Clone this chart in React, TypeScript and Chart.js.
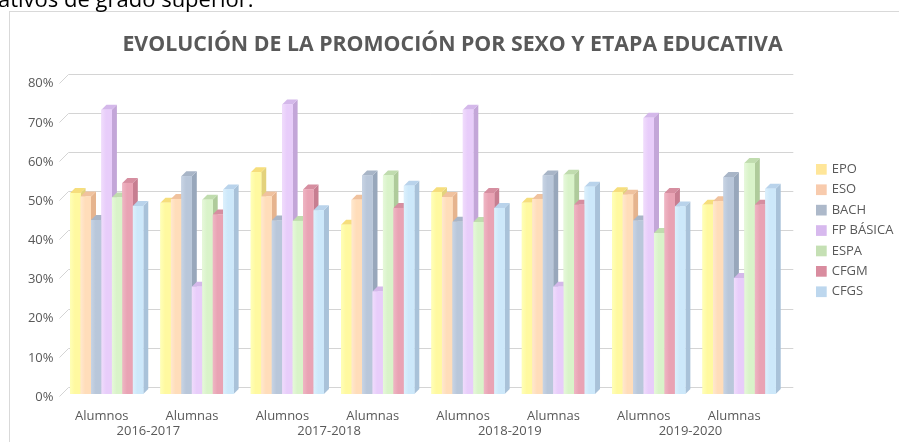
import React, { useEffect, useRef } from 'react';
import { Chart, registerables } from 'chart.js';

Chart.register(...registerables);

// ---- data ----
const chartTitle = 'EVOLUCIÓN DE LA PROMOCIÓN POR SEXO Y ETAPA EDUCATIVA';
const pageText = 'ativos de grado superior.';
const years = ['2016-2017', '2017-2018', '2018-2019', '2019-2020'];
const sexes = ['Alumnos', 'Alumnas'];
const seriesNames = ['EPO', 'ESO', 'BACH', 'FP BÁSICA', 'ESPA', 'CFGM', 'CFGS'];

const epo = [51.3, 48.8, 56.6, 43.2, 51.5, 48.8, 51.5, 48.3];
const eso = [50.4, 49.8, 50.4, 49.6, 50.3, 49.8, 50.9, 49.2];
const bach = [44.4, 55.6, 44.3, 55.8, 44.0, 55.8, 44.3, 55.4];
const fpBasica = [72.6, 27.4, 73.9, 26.2, 72.6, 27.4, 70.5, 29.6];
const espa = [50.2, 49.6, 44.2, 55.8, 43.9, 56.0, 41.1, 59.0];
const cfgm = [53.9, 45.8, 52.2, 47.5, 51.3, 48.3, 51.3, 48.3];
const cfgs = [48.0, 52.2, 46.9, 53.2, 47.5, 52.9, 47.9, 52.4];

const yMin = 0;
const yMax = 80;
const yStep = 10;

// ---- styles ----
const frontColors = ['#FFF9A0', '#FFDDBA', '#B9C7DA', '#E8CDFA', '#D9F3C9', '#E9A3B4', '#CDE8FA'];
const frontLight = ['#FFFFB8', '#FFE8CE', '#C8D4E4', '#F0DCFC', '#E6F8DA', '#EFB6C4', '#DCF0FC'];
const sideColors = ['#E3D27C', '#E6B48E', '#98A7BB', '#C3A6D8', '#AFCB9B', '#C77E91', '#A9C2D9'];
const topColors = ['#F6DE7C', '#F0C29E', '#A8B5C7', '#D4B8EA', '#C0DCAE', '#D68EA0', '#B9D3EB'];
const legendColors = ['#FFE699', '#F8CBAD', '#ADB9CA', '#D7B9EE', '#C5E0B4', '#D98C9F', '#BDD7EE'];

const values = [epo, eso, bach, fpBasica, espa, cfgm, cfgs];
const FONT = "'Open Sans', 'DejaVu Sans', sans-serif";
const TEXT = '#595959';
const DX = 5;
const DY = 5;

const threeDPlugin = {
  id: 'threeD',
  beforeDraw(chart: any) {
    const { ctx, width, height } = chart;
    ctx.save();
    ctx.fillStyle = '#FFFFFF';
    ctx.fillRect(0, 0, width, height);
    ctx.strokeStyle = '#D9D9D9';
    ctx.lineWidth = 1;
    ctx.strokeRect(9.5, 11.5, width + 20, height + 20);
    ctx.restore();
  },
  beforeDatasetsDraw(chart: any) {
    const { ctx, chartArea } = chart;
    const y = chart.scales.y;
    ctx.save();
    // back wall gridlines with floor slant
    ctx.strokeStyle = '#D4D4D4';
    ctx.lineWidth = 1;
    y.ticks.forEach((t: any) => {
      const py = Math.round(y.getPixelForValue(t.value)) + 0.5;
      ctx.beginPath();
      ctx.moveTo(chartArea.left - 2, py + 2);
      ctx.lineTo(chartArea.left + 7, py - 7);
      ctx.lineTo(chartArea.right + 9, py - 7);
      ctx.stroke();
    });
    // side + top faces of bars
    const n = chart.data.labels.length;
    for (let j = 0; j < n; j++) {
      for (let i = 0; i < chart.data.datasets.length; i++) {
        const meta = chart.getDatasetMeta(i);
        const el = meta.data[j];
        if (!el) continue;
        const p = el.getProps(['x', 'y', 'base', 'width'], true);
        const left = p.x - p.width / 2;
        const right = p.x + p.width / 2;
        const top = p.y;
        const base = p.base;
        ctx.fillStyle = sideColors[i];
        ctx.beginPath();
        ctx.moveTo(right, top);
        ctx.lineTo(right + DX, top - DY);
        ctx.lineTo(right + DX, base - DY);
        ctx.lineTo(right, base);
        ctx.closePath();
        ctx.fill();
        ctx.fillStyle = topColors[i];
        ctx.beginPath();
        ctx.moveTo(left, top);
        ctx.lineTo(left + DX, top - DY);
        ctx.lineTo(right + DX, top - DY);
        ctx.lineTo(right, top);
        ctx.closePath();
        ctx.fill();
      }
    }
    ctx.restore();
  },
  afterDatasetsDraw(chart: any) {
    // soft highlight on the left part of each front face
    const { ctx } = chart;
    ctx.save();
    for (let i = 0; i < chart.data.datasets.length; i++) {
      const meta = chart.getDatasetMeta(i);
      meta.data.forEach((el: any) => {
        const p = el.getProps(['x', 'y', 'base', 'width'], true);
        const left = p.x - p.width / 2;
        const g = ctx.createLinearGradient(left, 0, left + p.width, 0);
        g.addColorStop(0, frontLight[i]);
        g.addColorStop(0.45, frontColors[i]);
        g.addColorStop(1, frontColors[i]);
        ctx.fillStyle = g;
        ctx.fillRect(left, p.y, p.width, p.base - p.y);
      });
    }
    ctx.restore();
  },
  afterDraw(chart: any) {
    const { ctx } = chart;
    ctx.save();
    ctx.font = `13px ${FONT}`;
    ctx.textBaseline = 'middle';
    ctx.textAlign = 'left';
    seriesNames.forEach((name, i) => {
      const cy = 169.3 + i * 20.4;
      ctx.fillStyle = legendColors[i];
      ctx.fillRect(816, cy - 5.3, 10.7, 10.7);
      ctx.fillStyle = TEXT;
      ctx.fillText(name, 831.7, cy);
    });
    ctx.restore();
  },
};

export default function App() {
  const ref = useRef<HTMLCanvasElement | null>(null);

  useEffect(() => {
    if (!ref.current) return;
    const labels = years.flatMap(() => sexes);
    const chart = new Chart(ref.current, {
      type: 'bar',
      data: {
        labels,
        datasets: seriesNames.map((name, i) => ({
          label: name,
          data: values[i],
          backgroundColor: frontColors[i],
          borderWidth: 0,
          xAxisID: 'x',
          yAxisID: 'y',
          categoryPercentage: 0.81,
          barPercentage: 1.0,
        })),
      },
      options: {
        responsive: false,
        animation: false,
        devicePixelRatio: 1,
        layout: { padding: { left: 10, right: 4, top: 0, bottom: 0 } },
        plugins: {
          legend: { display: false },
          tooltip: { enabled: false },
          title: {
            display: true,
            text: chartTitle,
            color: TEXT,
            font: { family: FONT, size: 21.3, weight: 'bold' },
            padding: { top: 32.2, bottom: 22.9 },
          },
        },
        scales: {
          x: {
            type: 'category',
            position: 'bottom',
            weight: 0,
            offset: true,
            grid: { display: false, drawTicks: false },
            border: { display: false },
            ticks: {
              color: TEXT,
              font: { family: FONT, size: 13 },
              padding: 14.2,
              labelOffset: -5,
              autoSkip: false,
              maxRotation: 0,
            },
            afterFit: (s: any) => { s.height = 29; },
          },
          x2: {
            type: 'category',
            position: 'bottom',
            weight: 1,
            labels: years,
            offset: true,
            grid: { display: false, drawTicks: false },
            border: { display: false },
            ticks: {
              color: TEXT,
              font: { family: FONT, size: 13 },
              padding: 0,
              labelOffset: -3.5,
              autoSkip: false,
              maxRotation: 0,
            },
            afterFit: (s: any) => { s.height = 19; },
          },
          y: {
            type: 'linear',
            position: 'left',
            min: yMin,
            max: yMax,
            grid: { display: false, drawTicks: false },
            border: { display: false },
            ticks: {
              stepSize: yStep,
              color: TEXT,
              font: { family: FONT, size: 13 },
              padding: 8,
              labelOffset: 3,
              callback: (v: any) => `${v}%`,
            },
            afterFit: (s: any) => { s.width = 51.5; },
          },
          yR: {
            type: 'linear',
            position: 'right',
            display: true,
            min: 0,
            max: 1,
            grid: { display: false, drawTicks: false },
            border: { display: false },
            ticks: { display: false },
            afterFit: (s: any) => { s.width = 110.7; },
          },
        },
      },
      plugins: [threeDPlugin],
    } as any);
    return () => chart.destroy();
  }, []);

  return (
    <div style={{ position: 'fixed', left: 0, top: 0, width: 899, height: 442, overflow: 'hidden', background: '#fff' }}>
      <canvas ref={ref} width={899} height={442} style={{ position: 'absolute', left: 0, top: 0, width: 899, height: 442 }} />
      <div
        style={{
          position: 'absolute',
          left: -2,
          top: -13,
          fontFamily: FONT,
          fontSize: 22,
          lineHeight: 1,
          whiteSpace: 'nowrap',
          color: '#000',
        }}
      >
        {pageText}
      </div>
    </div>
  );
}
